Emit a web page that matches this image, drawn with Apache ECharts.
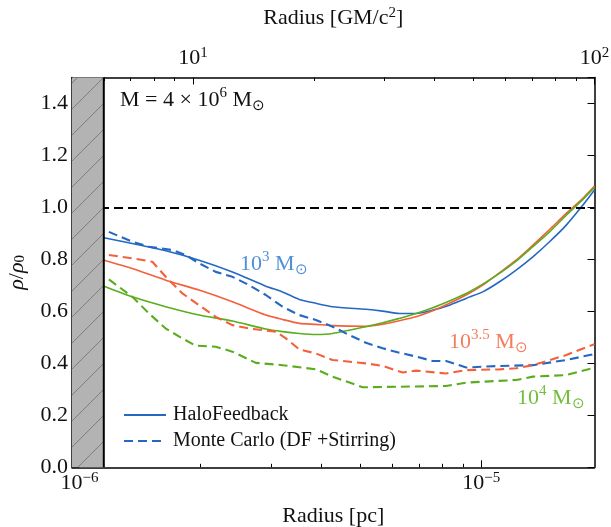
<!DOCTYPE html>
<html><head><meta charset="utf-8">
<script src="https://cdn.jsdelivr.net/npm/echarts@6/dist/echarts.min.js"></script>
<style>html,body{margin:0;padding:0;background:#fff}#c{width:611px;height:527px}</style>
</head><body><div id="c"></div>
<script>
// ---- axis ranges / ticks ----
const X_MIN_PC = 9.575e-7;   // 5 GM/c^2
const X_MAX_PC = 1.915e-5;   // 100 GM/c^2
const ISCO_PC = 1.149e-6;    // 6 GM/c^2
const TOP_MIN = 5, TOP_MAX = 100;
const xMajorTicks = [1e-6, 1e-5];
const xMinorTicks = [2e-6, 3e-6, 4e-6, 5e-6, 6e-6, 7e-6, 8e-6, 9e-6, 2e-5];
const topMajorTicks = [10, 100];
const topMinorTicks = [6, 7, 8, 9, 20, 30, 40, 50, 60, 70, 80, 90];
const yMin = 0, yMax = 1.5, yStep = 0.2;

// ---- HaloFeedback (solid) ----
const rSolid = [1.150e-6, 1.353e-6, 1.639e-6, 1.984e-6, 2.402e-6, 2.909e-6, 3.201e-6, 3.523e-6, 3.877e-6, 4.266e-6, 5.166e-6, 5.685e-6, 6.256e-6, 6.884e-6, 7.577e-6, 8.335e-6, 9.173e-6, 1.009e-5, 1.111e-5, 1.222e-5, 1.345e-5, 1.480e-5, 1.629e-5, 1.792e-5, 1.915e-5];
const halo_1e3  = [0.883, 0.861, 0.833, 0.797, 0.752, 0.697, 0.675, 0.646, 0.631, 0.618, 0.608, 0.601, 0.592, 0.592, 0.605, 0.624, 0.650, 0.675, 0.714, 0.759, 0.810, 0.868, 0.932, 1.009, 1.067];
const halo_1e35 = [0.797, 0.765, 0.720, 0.682, 0.637, 0.586, 0.569, 0.554, 0.550, 0.545, 0.543, 0.551, 0.564, 0.579, 0.602, 0.631, 0.663, 0.701, 0.749, 0.797, 0.855, 0.915, 0.977, 1.035, 1.082];
const halo_1e4  = [0.697, 0.656, 0.618, 0.586, 0.563, 0.532, 0.522, 0.515, 0.511, 0.515, 0.541, 0.556, 0.573, 0.592, 0.614, 0.640, 0.669, 0.705, 0.746, 0.793, 0.849, 0.906, 0.970, 1.031, 1.077];

// ---- Monte Carlo (dashed) ----
const rMC_1e3 = [1.183e-6, 1.353e-6, 1.489e-6, 1.702e-6, 1.838e-6, 1.984e-6, 2.183e-6, 2.402e-6, 2.644e-6, 2.909e-6, 3.201e-6, 3.523e-6, 3.877e-6, 4.266e-6, 4.694e-6, 5.166e-6, 5.685e-6, 6.256e-6, 6.884e-6, 7.577e-6, 8.177e-6, 9.173e-6, 1.111e-5, 1.345e-5, 1.629e-5, 1.915e-5];
const mc_1e3  = [0.906, 0.868, 0.849, 0.836, 0.817, 0.785, 0.752, 0.733, 0.701, 0.663, 0.618, 0.586, 0.567, 0.541, 0.509, 0.479, 0.458, 0.441, 0.426, 0.409, 0.409, 0.384, 0.390, 0.393, 0.413, 0.436];
const rMC_1e35 = [1.183e-6, 1.353e-6, 1.518e-6, 1.639e-6, 1.803e-6, 1.984e-6, 2.183e-6, 2.402e-6, 2.644e-6, 3.081e-6, 3.263e-6, 3.523e-6, 3.877e-6, 4.266e-6, 5.166e-6, 5.685e-6, 6.377e-6, 6.884e-6, 8.177e-6, 9.173e-6, 1.111e-5, 1.222e-5, 1.345e-5, 1.629e-5, 1.915e-5];
const mc_1e35 = [0.817, 0.804, 0.791, 0.733, 0.669, 0.624, 0.579, 0.547, 0.534, 0.522, 0.496, 0.454, 0.438, 0.413, 0.400, 0.390, 0.365, 0.372, 0.361, 0.374, 0.377, 0.381, 0.393, 0.432, 0.474];
const rMC_1e4 = [1.183e-6, 1.353e-6, 1.489e-6, 1.639e-6, 1.803e-6, 1.946e-6, 2.183e-6, 2.402e-6, 2.747e-6, 3.201e-6, 3.877e-6, 4.266e-6, 5.068e-6, 6.256e-6, 8.177e-6, 9.173e-6, 1.222e-5, 1.345e-5, 1.629e-5, 1.915e-5];
const mc_1e4  = [0.723, 0.656, 0.592, 0.534, 0.496, 0.468, 0.464, 0.445, 0.402, 0.393, 0.377, 0.349, 0.308, 0.310, 0.313, 0.326, 0.336, 0.349, 0.355, 0.383];

const legendNames = ['HaloFeedback', 'Monte Carlo (DF +Stirring)'];

// ---- styling ----
const FONT = 'Liberation Serif';
const C_BLUE = '#2468c4', C_ORANGE = '#f4603c', C_GREEN = '#5aad1e';
const T_BLUE = '#4f8fd6', T_ORANGE = '#f47d5c', T_GREEN = '#72bd3c';

const zip = (xs, ys) => xs.map((x, i) => [x, ys[i]]);
function powLabel(v) {
  const e = Math.round(Math.log10(v));
  return '{b|10}{s|' + (e < 0 ? '\u2212' + (-e) : e) + '}';
}
const powRich = {
  b: {fontFamily: FONT, fontSize: 22, lineHeight: 26, color: '#111'},
  s: {fontFamily: FONT, fontSize: 15, lineHeight: 15, verticalAlign: 'top', color: '#111'}
};
const axisLineStyle = {color: '#000', width: 1.5};

function solid(name, xs, ys, color) {
  return {type: 'line', name, data: zip(xs, ys), xAxisIndex: 0, yAxisIndex: 0,
    symbol: 'none', showSymbol: false, smooth: 0.2, z: 3,
    lineStyle: {color, width: 1.6}, itemStyle: {color}};
}
function dashed(name, xs, ys, color) {
  return {type: 'line', name, data: zip(xs, ys), xAxisIndex: 0, yAxisIndex: 0,
    symbol: 'none', showSymbol: false, z: 3,
    lineStyle: {color, width: 2.1, type: [9, 5]}, itemStyle: {color}};
}
function annot(left, top, base, sup, color) {
  return {type: 'text', left, top, z: 10,
    style: {text: '{r|' + base + '}{sup|' + sup + '}{r| M}{sub|\u2299}',
      rich: {r: {fontFamily: FONT, fontSize: 22, lineHeight: 28, fill: color},
             sup: {fontFamily: FONT, fontSize: 15, verticalAlign: 'top', fill: color},
             sub: {fontFamily: FONT, fontSize: 15, verticalAlign: 'bottom', fill: color}}}};
}

const chart = echarts.init(document.getElementById('c'), null, {renderer: 'canvas'});

const option = {
  animation: false,
  backgroundColor: '#fff',
  grid: {left: 72, right: 16.5, top: 77.5, bottom: 59.7, containLabel: false, outerBoundsMode: 'none', show: false},
  legend: {
    data: legendNames, orient: 'vertical', left: 118, top: 400,
    itemWidth: 42, itemHeight: 14, itemGap: 6,
    itemStyle: {opacity: 0},
    textStyle: {fontFamily: FONT, fontSize: 20, color: '#111', padding: [0, 0, 0, 2]},
    selectedMode: false
  },
  xAxis: [
    {type: 'log', min: X_MIN_PC, max: X_MAX_PC, position: 'bottom',
      axisLine: {show: true, lineStyle: axisLineStyle},
      axisTick: {show: true, inside: true, length: 7, customValues: xMajorTicks, lineStyle: {color: '#000', width: 1}},
      axisLabel: {show: true, customValues: xMajorTicks, formatter: powLabel, rich: powRich, margin: 3},
      splitLine: {show: false}, minorTick: {show: false},
      name: 'Radius [pc]', nameLocation: 'middle', nameGap: 38,
      nameTextStyle: {fontFamily: FONT, fontSize: 22, color: '#111'}},
    {type: 'log', min: X_MIN_PC, max: X_MAX_PC, position: 'bottom',
      axisLine: {show: false},
      axisTick: {show: true, inside: true, length: 3.5, customValues: xMinorTicks, lineStyle: {color: '#000', width: 1}},
      axisLabel: {show: false}, splitLine: {show: false}},
    {type: 'log', min: TOP_MIN, max: TOP_MAX, position: 'top',
      axisLine: {show: true, lineStyle: axisLineStyle},
      axisTick: {show: true, inside: true, length: 7, customValues: topMajorTicks, lineStyle: {color: '#000', width: 1}},
      axisLabel: {show: true, customValues: topMajorTicks, formatter: powLabel, rich: powRich, margin: 6},
      splitLine: {show: false},
      name: '{r|Radius [GM/c}{sup|2}{r|]}', nameLocation: 'middle', nameGap: 46,
      nameTextStyle: {fontFamily: FONT, fontSize: 22, color: '#111',
        rich: {r: {fontFamily: FONT, fontSize: 22, lineHeight: 26, color: '#111'},
               sup: {fontFamily: FONT, fontSize: 15, verticalAlign: 'top', color: '#111'}}}},
    {type: 'log', min: TOP_MIN, max: TOP_MAX, position: 'top',
      axisLine: {show: false},
      axisTick: {show: true, inside: true, length: 3.5, customValues: topMinorTicks, lineStyle: {color: '#000', width: 1}},
      axisLabel: {show: false}, splitLine: {show: false}}
  ],
  yAxis: [
    {type: 'value', min: yMin, max: yMax, interval: yStep, position: 'left',
      axisLine: {show: true, lineStyle: axisLineStyle},
      axisTick: {show: true, inside: true, length: 7, lineStyle: {color: '#000', width: 1}},
      axisLabel: {fontFamily: FONT, fontSize: 22, color: '#111', margin: 4, showMaxLabel: false,
        formatter: v => v.toFixed(1)},
      splitLine: {show: false},
      name: '{i|\u03C1}/{i|\u03C1}{sub|0}', nameLocation: 'middle', nameGap: 44, nameRotate: 90,
      nameTextStyle: {fontFamily: FONT, fontSize: 22, color: '#111',
        rich: {i: {fontFamily: FONT, fontSize: 22, fontStyle: 'italic', color: '#111'},
               sub: {fontFamily: FONT, fontSize: 15, verticalAlign: 'bottom', color: '#111'}}}},
    {type: 'value', min: yMin, max: yMax, interval: yStep, position: 'right',
      axisLine: {show: true, lineStyle: axisLineStyle},
      axisTick: {show: true, inside: true, length: 7, lineStyle: {color: '#000', width: 1}},
      axisLabel: {show: false}, splitLine: {show: false}}
  ],
  series: [
    solid('HaloFeedback', rSolid, halo_1e3, C_BLUE),
    solid('HaloFeedback 10^3.5', rSolid, halo_1e35, C_ORANGE),
    solid('HaloFeedback 10^4', rSolid, halo_1e4, C_GREEN),
    dashed('Monte Carlo (DF +Stirring)', rMC_1e3, mc_1e3, C_BLUE),
    dashed('Monte Carlo 10^3.5', rMC_1e35, mc_1e35, C_ORANGE),
    dashed('Monte Carlo 10^4', rMC_1e4, mc_1e4, C_GREEN),
    {type: 'line', name: 'unity', data: [], xAxisIndex: 0, yAxisIndex: 0, z: 2,
      markLine: {silent: true, symbol: ['none', 'none'], label: {show: false},
        lineStyle: {color: '#000', width: 2, type: [9, 5]}, data: [{yAxis: 1}]}},
    {type: 'custom', name: 'isco', xAxisIndex: 0, yAxisIndex: 0, z: 5, silent: true,
      data: [[ISCO_PC, 0]],
      renderItem: function (params, api) {
        const cs = params.coordSys;
        const L = cs.x, T = cs.y, B = cs.y + cs.height;
        const R = api.coord([api.value(0), 0])[0];
        const w = R - L;
        const children = [{type: 'rect', shape: {x: L, y: T, width: w, height: B - T},
          style: {fill: '#b3b3b3'}}];
        const step = 26;
        for (let c = B + w; c > T; c -= step) {
          let x1 = L, y1 = c, x2 = R, y2 = c - w;
          if (y1 > B) { x1 = L + (y1 - B); y1 = B; }
          if (y2 < T) { x2 = L + (c - T); y2 = T; }
          if (x2 <= x1) continue;
          children.push({type: 'line', shape: {x1, y1, x2, y2},
            style: {stroke: '#6e6e6e', lineWidth: 0.8}});
        }
        children.push({type: 'line', shape: {x1: R, y1: T, x2: R, y2: B},
          style: {stroke: '#000', lineWidth: 2}});
        return {type: 'group', children};
      }}
  ],
  graphic: [
    {type: 'text', left: 120, top: 86, z: 10,
      style: {text: '{r|M = 4 \u00D7 10}{sup|6}{r| M}{sub|\u2299}',
        rich: {r: {fontFamily: FONT, fontSize: 22, lineHeight: 28, fill: '#111'},
               sup: {fontFamily: FONT, fontSize: 15, verticalAlign: 'top', fill: '#111'},
               sub: {fontFamily: FONT, fontSize: 15, verticalAlign: 'bottom', fill: '#111'}}}},
    annot(240, 250, '10', '3', T_BLUE),
    annot(449, 328, '10', '3.5', T_ORANGE),
    annot(517, 384, '10', '4', T_GREEN)
  ]
};
chart.setOption(option);
</script></body></html>
